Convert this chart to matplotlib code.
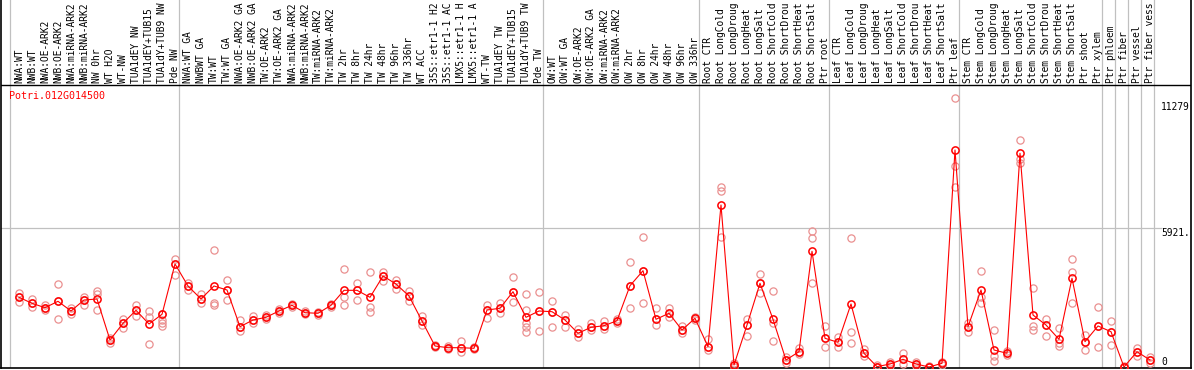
import numpy as np
import matplotlib.pyplot as plt

gene = 'Potri.012G014500'

# column labels as printed (source cuts them at 14 characters)
labels = ['NWA:WT', 'NWB:WT', 'NWA:OE-ARK2', 'NWB:OE-ARK2', 'NWA:miRNA-ARK2',
          'NWB:miRNA-ARK2', 'NW 0hr', 'WT H2O', 'WT-NW', 'TUA1dEY NW',
          'TUA1dEY+TUB15 ', 'TUA1dY+TUB9 NW', 'Pde NW',
          'NWA:WT GA', 'NWBWT GA', 'TW:WT', 'TW:WT GA', 'NWA:OE-ARK2 GA',
          'NWB:OE-ARK2 GA', 'TW:OE-ARK2', 'TW:OE-ARK2 GA', 'NWA:miRNA-ARK2',
          'NWB:miRNA-ARK2', 'TW:miRNA-ARK2', 'TW:miRNA-ARK2 ', 'TW 2hr',
          'TW 8hr', 'TW 24hr', 'TW 48hr', 'TW 96hr', 'TW 336hr', 'WT ACC',
          '35S::etr1-1 H2', '35S::etr1-1 AC', 'LMX5::etr1-1 H',
          'LMX5::etr1-1 A', 'WT-TW', 'TUA1dEY TW', 'TUA1dEY+TUB15 ',
          'TUA1dY+TUB9 TW', 'Pde TW',
          'OW:WT', 'OW:WT GA', 'OW:OE-ARK2', 'OW:OE-ARK2 GA', 'OW:miRNA-ARK2',
          'OW:miRNA-ARK2 ', 'OW 2hr', 'OW 8hr', 'OW 24hr', 'OW 48hr',
          'OW 96hr', 'OW 336hr',
          'Root CTR', 'Root LongCold', 'Root LongDroug', 'Root LongHeat',
          'Root LongSalt', 'Root ShortCold', 'Root ShortDrou',
          'Root ShortHeat', 'Root ShortSalt', 'Ptr root',
          'Leaf CTR', 'Leaf LongCold', 'Leaf LongDroug', 'Leaf LongHeat',
          'Leaf LongSalt', 'Leaf ShortCold', 'Leaf ShortDrou',
          'Leaf ShortHeat', 'Leaf ShortSalt', 'Ptr leaf',
          'Stem CTR', 'Stem LongCold', 'Stem LongDroug', 'Stem LongHeat',
          'Stem LongSalt', 'Stem ShortCold', 'Stem ShortDrou',
          'Stem ShortHeat', 'Stem ShortSalt', 'Ptr shoot', 'Ptr xylem',
          'Ptr phloem', 'Ptr fiber', 'Ptr vessel', 'Ptr fiber vess']

# index of first column of each group (plus the end)
group_starts = [0, 13, 41, 53, 63, 73, 84, 85, 86, 87, 88]

means = [2969, 2714, 2526, 2799, 2386, 2854, 2897, 1150, 1862, 2415,
         1832, 2245, 4388, 3451, 2897, 3451, 3280, 1717, 2002, 2117,
         2386, 2628, 2313, 2288, 2628, 3267, 3267, 2969, 3877, 3536,
         3025, 1960, 895, 822, 822, 797, 2428, 2501, 3208, 2117,
         2386, 2356, 2002, 1436, 1691, 1759, 1972, 3463, 4102, 2032,
         2288, 1576, 2075, 865, 6901, 85, 1789, 3566, 2032, 298,
         652, 4929, 1223, 1052, 2684, 584, 13, 128, 328, 128,
         0, 158, 9244, 1717, 3280, 724, 584, 9104, 2215, 1789,
         1180, 3779, 1078, 1747, 1504, 0, 652, 298]

reps = [[3140, 2969, 2782], [2897, 2714, 2543], [2641, 2526, 2428],
        [3523, 2799, 2032], [2526, 2386, 2245], [2995, 2854, 2641],
        [3238, 3097, 2428], [1235, 1150, 1035], [2032, 1862, 1674],
        [2641, 2415, 2173], [2386, 2117, 967], [2245, 2002, 1887, 1759],
        [4600, 4400, 3919], [3566, 3451, 3280], [3097, 2897, 2714],
        [4984, 2739, 2641], [3706, 3280, 2854], [2002, 1717, 1546],
        [2173, 2002, 1874], [2194, 2117, 2045], [2471, 2386, 2300],
        [2684, 2628, 2556], [2386, 2288, 2237], [2343, 2288, 2215],
        [2684, 2628, 2556], [4162, 2995, 2641], [3566, 3267, 2854],
        [4034, 2569, 2330], [4034, 3877, 3676], [3706, 3536, 3310],
        [3238, 3025, 2812], [2173, 1960, 1789], [937, 895, 852],
        [895, 822, 767], [1108, 822, 652], [852, 797, 746],
        [2641, 2428, 2075], [2714, 2501, 2313], [3821, 3208, 2782],
        [3097, 2428, 1874, 1704, 1504], [3182, 2386, 1534], [2812, 2356, 1717],
        [2215, 2002, 1717], [1606, 1436, 1265], [1862, 1691, 1576],
        [1972, 1759, 1606], [2066, 1972, 1874], [4460, 3463, 2501],
        [5525, 4102, 2714], [2501, 2032, 1789], [2501, 2288, 2117],
        [1747, 1576, 1436], [2130, 2075, 2002], [1180, 865, 724],
        [7668, 7498, 5538], [170, 85, 0], [2032, 1789, 1321],
        [3962, 3566, 3140], [3250, 1862, 1108], [439, 298, 170],
        [797, 652, 554], [5794, 5483, 3566], [1747, 1223, 865],
        [1291, 1052, 865], [5483, 1478, 1010], [754, 584, 469],
        [85, 13, 0], [226, 128, 43], [609, 328, 128], [213, 128, 43],
        [43, 0, 0], [213, 158, 85], [11447, 8563, 7655], [1862, 1717, 1504],
        [4090, 2995, 2714], [1576, 469, 256], [682, 584, 511],
        [9670, 8848, 8678], [3353, 1747, 1576], [2032, 1789, 1321],
        [1649, 1010, 895], [4588, 4060, 2739], [1363, 1078, 724],
        [2543, 1747, 865], [1972, 1504, 937], [43, 0, 0],
        [797, 652, 469], [413, 298, 183]]

ytick_vals = [11279, 5921, 0]
ytick_labels = ['11279', '5921.', '0']

plt.rcParams['font.family'] = 'DejaVu Sans Mono'
W, H = 1194, 370
fig = plt.figure(figsize=(W / 100, H / 100), dpi=100)

# axes covers header + plot; header line sits at pixel row 85
px_per_col = 13.0
val_per_px = 42.6
ax = fig.add_axes([1 / W, 2 / H, 1190 / W, 368 / H])
ax.set_xlim((1 - 19) / px_per_col, (1191 - 19) / px_per_col)
ax.set_ylim(-1 * val_per_px, 367 * val_per_px)
header_y = (367 - 85) * val_per_px

x = np.arange(len(labels))

# group separators
for b in group_starts:
    ax.axvline(b - 0.67, color='#c0c0c0', lw=0.9, zorder=1)
ax.hlines(5921, -2, 87.9, color='#c0c0c0', lw=0.9, zorder=1)
ax.axhline(header_y, color='black', lw=1.0, zorder=2)

# replicates
for i, r in enumerate(reps):
    ax.plot([i] * len(r), r, 'o', ms=5.2, mfc='none', mec='#ea9090',
            mew=0.9, zorder=3)

# mean line
ax.plot(x, means, '-', color='red', lw=0.8, zorder=4)
ax.plot(x, means, 'o', ms=5.2, mfc='none', mec='red', mew=1.1, zorder=5)

# column labels along top
for i, lab in enumerate(labels):
    ax.text(i, header_y + 2 * val_per_px, lab, rotation=90, ha='center',
            va='bottom', fontsize=6.9, color='black')

# value labels on the right
for v, lab in zip(ytick_vals, ytick_labels):
    ax.text(87.85, v, lab, ha='left', va='bottom' if v == 0 else 'top',
            fontsize=6.9, color='black')

ax.text(-0.77, (367 - 96) * val_per_px, gene, ha='left', va='center',
        fontsize=7.2, color='red')

ax.set_xticks([])
ax.set_yticks([])
ax.spines['top'].set_visible(False)
for s in ['left', 'right', 'bottom']:
    ax.spines[s].set_linewidth(1.2)

plt.savefig('out.png', dpi=100)
